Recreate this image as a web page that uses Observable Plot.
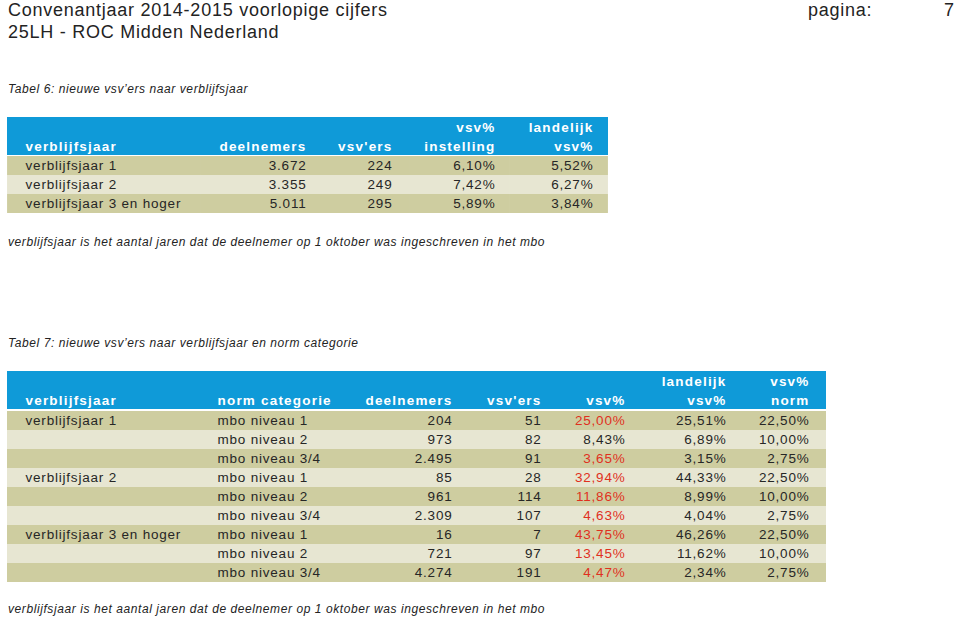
<!DOCTYPE html>
<html>
<head>
<meta charset="utf-8">
<script src="https://cdn.jsdelivr.net/npm/d3@7"></script>
<script src="https://cdn.jsdelivr.net/npm/@observablehq/plot@0.6"></script>
<style>
  html, body { margin: 0; padding: 0; background: #fff; }
  #page { position: relative; width: 960px; height: 620px; overflow: hidden;
          font-family: "Liberation Sans", Arial, sans-serif; color: #232323; }
  .abs { position: absolute; white-space: nowrap; }
  .title { font-size: 18px; line-height: 20px; letter-spacing: 0.75px; }
  .cap { font-size: 12px; line-height: 14px; font-style: italic; letter-spacing: 0.58px; }
</style>
</head>
<body>
<div id="page">
  <div class="abs title" style="left:8px; top:0px;">Convenantjaar 2014-2015 voorlopige cijfers</div>
  <div class="abs title" style="left:808px; top:0px;">pagina:</div>
  <div class="abs title" style="left:944px; top:0px;">7</div>
  <div class="abs title" style="left:8px; top:22px;">25LH - ROC Midden Nederland</div>
  <div class="abs cap" style="left:8px; top:82px;">Tabel 6: nieuwe vsv’ers naar verblijfsjaar</div>
  <div id="t6" class="abs" style="left:7px; top:116px;"></div>
  <div class="abs cap" style="left:8px; top:235px;">verblijfsjaar is het aantal jaren dat de deelnemer op 1 oktober was ingeschreven in het mbo</div>
  <div class="abs cap" style="left:8px; top:336px;">Tabel 7: nieuwe vsv’ers naar verblijfsjaar en norm categorie</div>
  <div id="t7" class="abs" style="left:7px; top:371px;"></div>
  <div class="abs cap" style="left:8px; top:602px;">verblijfsjaar is het aantal jaren dat de deelnemer op 1 oktober was ingeschreven in het mbo</div>
</div>
<script>
// ---------- DATA: Tabel 6 ----------
const t6Header1 = ["", "", "", "vsv%", "landelijk"];
const t6Header2 = ["verblijfsjaar", "deelnemers", "vsv'ers", "instelling", "vsv%"];
const t6Categories = ["verblijfsjaar 1", "verblijfsjaar 2", "verblijfsjaar 3 en hoger"];
const t6Deelnemers = [3672, 3355, 5011];
const t6Vsvers = [224, 249, 295];
const t6VsvInstelling = [6.10, 7.42, 5.89];
const t6LandelijkVsv = [5.52, 6.27, 3.84];

// ---------- DATA: Tabel 7 ----------
const t7Header1 = ["", "", "", "", "", "landelijk", "vsv%"];
const t7Header2 = ["verblijfsjaar", "norm categorie", "deelnemers", "vsv'ers", "vsv%", "vsv%", "norm"];
const t7Verblijfsjaar = ["verblijfsjaar 1", "", "", "verblijfsjaar 2", "", "", "verblijfsjaar 3 en hoger", "", ""];
const t7NormCategorie = ["mbo niveau 1", "mbo niveau 2", "mbo niveau 3/4", "mbo niveau 1", "mbo niveau 2", "mbo niveau 3/4", "mbo niveau 1", "mbo niveau 2", "mbo niveau 3/4"];
const t7Deelnemers = [204, 973, 2495, 85, 961, 2309, 16, 721, 4274];
const t7Vsvers = [51, 82, 91, 28, 114, 107, 7, 97, 191];
const t7Vsv = [25.00, 8.43, 3.65, 32.94, 11.86, 4.63, 43.75, 13.45, 4.47];
const t7LandelijkVsv = [25.51, 6.89, 3.15, 44.33, 8.99, 4.04, 46.26, 11.62, 2.34];
const t7VsvNorm = [22.50, 10.00, 2.75, 22.50, 10.00, 2.75, 22.50, 10.00, 2.75];

// ---------- formatting (Dutch locale) ----------
const nl = d3.formatLocale({decimal: ",", thousands: ".", grouping: [3], currency: ["€ ", ""]});
const fInt = nl.format(",d");
const fPct = v => nl.format(",.2f")(v) + "%";

// ---------- layout (not data) ----------
const BLUE = "#0f9ad8", DARK = "#cecda0", LIGHT = "#e7e6d2", INK = "#262626", RED = "#e0301e";
const FONT = "Liberation Sans, Arial, sans-serif";

function table(el, {colWidths, pads, aligns, header1, header2, rows, width, headerH, rowH}) {
  const edges = [0];
  colWidths.forEach(w => edges.push(edges[edges.length - 1] + w));
  const nRows = rows.length;
  const nC = colWidths.length;
  const bodyIds = d3.range(nRows).map(String);
  const xAt = c => aligns[c] === "start" ? edges[c] + pads[c] : edges[c + 1] - pads[c];

  const headBg = [], bodyBg = [], headSeps = [], bodySeps = [];
  ["h1", "h2"].forEach(r => {
    for (let c = 0; c < nC; c++) headBg.push({r, x1: edges[c], x2: edges[c + 1]});
    for (let c = 1; c < nC; c++) headSeps.push({r, x: edges[c]});
  });
  bodyIds.forEach((r, i) => {
    for (let c = 0; c < nC; c++) bodyBg.push({r, x1: edges[c], x2: edges[c + 1], fill: i % 2 === 0 ? DARK : LIGHT});
    for (let c = 1; c < nC; c++) bodySeps.push({r, x: edges[c]});
  });

  const head = [];
  for (let c = 0; c < nC; c++) {
    if (header1[c]) head.push({r: "h1", x: xAt(c), text: header1[c], anchor: aligns[c]});
    if (header2[c]) head.push({r: "h2", x: xAt(c), text: header2[c], anchor: aligns[c]});
  }
  const body = [];
  rows.forEach((row, i) => row.forEach((cell, c) => {
    if (cell.text) body.push({r: String(i), x: xAt(c), text: cell.text, color: cell.color || INK, anchor: aligns[c]});
  }));

  const textMarks = (data, opts) => ["start", "end"].map(a =>
    Plot.text(data.filter(d => d.anchor === a), {x: "x", y: "r", text: "text", textAnchor: a, fontFamily: FONT, ...opts}));

  const headerPlot = Plot.plot({
    width, height: headerH, margin: 0,
    x: {type: "linear", domain: [0, width], range: [0, width], axis: null},
    y: {type: "band", domain: ["h1", "h2"], padding: 0, axis: null},
    style: {background: "transparent", overflow: "visible", letterSpacing: "1.2px"},
    marks: [
      Plot.barX(headBg, {x1: "x1", x2: "x2", y: "r", fill: BLUE, inset: 0}),
      Plot.ruleX(headSeps, {x: "x", y: "r", stroke: "#ffffff", strokeOpacity: 0.3}),
      ...textMarks(head, {fill: "#fff", fontSize: 13.5, fontWeight: "bold", dy: 1})
    ]
  });
  const bodyPlot = Plot.plot({
    width, height: nRows * rowH, margin: 0,
    x: {type: "linear", domain: [0, width], range: [0, width], axis: null},
    y: {type: "band", domain: bodyIds, padding: 0, axis: null},
    style: {background: "transparent", overflow: "visible", letterSpacing: "0.8px"},
    marks: [
      Plot.barX(bodyBg, {x1: "x1", x2: "x2", y: "r", fill: "fill", inset: 0}),
      Plot.ruleX(bodySeps, {x: "x", y: "r", stroke: "#ffffff", strokeOpacity: 0.4}),
      ...textMarks(body, {fill: "color", fontSize: 13.5})
    ]
  });
  headerPlot.style.display = "block";
  bodyPlot.style.display = "block";
  headerPlot.style.letterSpacing = "1.2px";
  bodyPlot.style.letterSpacing = "0.8px";
  el.append(headerPlot, bodyPlot);
}

// Tabel 6
table(document.getElementById("t6"), {
  width: 601, headerH: 39, rowH: 19.4,
  colWidths: [193, 120, 90, 100, 98],
  pads: [18, 14, 18, 15, 15],
  aligns: ["start", "end", "end", "end", "end"],
  header1: t6Header1, header2: t6Header2,
  rows: t6Categories.map((c, i) => [
    {text: c}, {text: fInt(t6Deelnemers[i])}, {text: fInt(t6Vsvers[i])},
    {text: fPct(t6VsvInstelling[i])}, {text: fPct(t6LandelijkVsv[i])}
  ])
});

// Tabel 7
table(document.getElementById("t7"), {
  width: 819, headerH: 38, rowH: 19.45,
  colWidths: [193, 148, 115, 92, 85, 100, 86],
  pads: [18, 17, 11, 14, 15, 14, 17],
  aligns: ["start", "start", "end", "end", "end", "end", "end"],
  header1: t7Header1, header2: t7Header2,
  rows: t7NormCategorie.map((n, i) => [
    {text: t7Verblijfsjaar[i]}, {text: n}, {text: fInt(t7Deelnemers[i])}, {text: fInt(t7Vsvers[i])},
    {text: fPct(t7Vsv[i]), color: t7Vsv[i] > t7VsvNorm[i] ? RED : INK},
    {text: fPct(t7LandelijkVsv[i])}, {text: fPct(t7VsvNorm[i])}
  ])
});
</script>
</body>
</html>
